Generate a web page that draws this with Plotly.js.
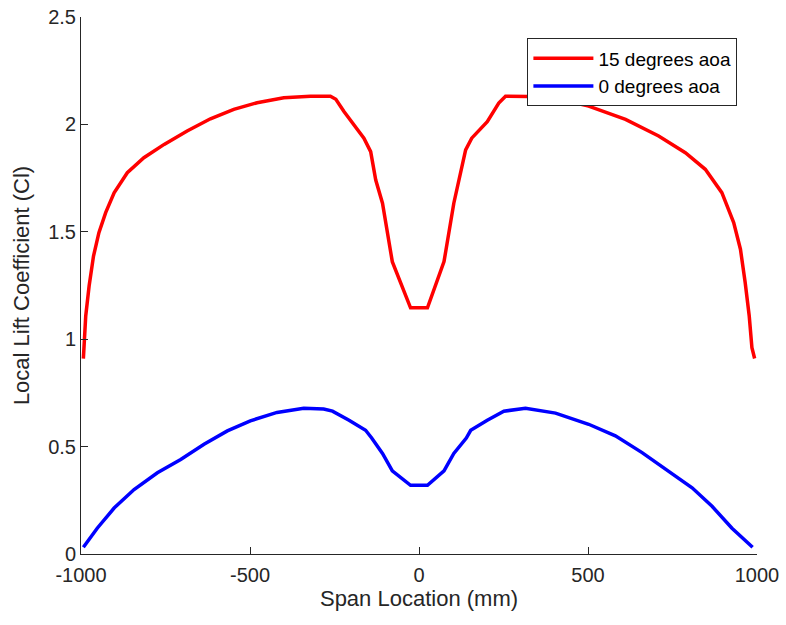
<!DOCTYPE html>
<html>
<head>
<meta charset="utf-8">
<script src="https://cdn.plot.ly/plotly-3.0.1.min.js"></script>
<style>html,body{margin:0;padding:0;background:#fff;}#chart{width:786px;height:625px;}</style>
</head>
<body>
<div id="chart"></div>
<script>
// Span locations (mm) and local lift coefficient
const spanAoa15 = [-993, -986, -976, -963, -947, -927, -902, -863, -814, -754, -686, -617, -548, -479, -400, -321, -262,
                   -246, -222, -192, -163, -143, -128, -108, -79, -25,
                   25, 74, 103, 138, 156, 202, 236, 256,
                   384, 502, 611, 709, 788, 847, 896, 931, 951, 965, 977, 985, 993];
const clAoa15 = [0.91, 1.108, 1.248, 1.387, 1.496, 1.589, 1.682, 1.775, 1.845, 1.907, 1.969, 2.026, 2.070, 2.101, 2.124, 2.131, 2.131,
                 2.117, 2.06, 1.998, 1.936, 1.873, 1.741, 1.633, 1.361, 1.146,
                 1.146, 1.361, 1.633, 1.881, 1.936, 2.013, 2.099, 2.131,
                 2.129, 2.085, 2.023, 1.946, 1.868, 1.791, 1.682, 1.543, 1.419, 1.264, 1.108, 0.96, 0.91];

const spanAoa0 = [-993, -952, -902, -843, -774, -705, -636, -567, -499, -420, -341, -282, -256,
                  -207, -158, -140, -108, -79, -25,
                  25, 74, 103, 140, 153, 202, 251,
                  315, 404, 502, 581, 660, 739, 808, 867, 926, 987];
const clAoa0 = [0.031, 0.120, 0.214, 0.300, 0.378, 0.440, 0.511, 0.573, 0.620, 0.659, 0.678, 0.675, 0.665,
                0.623, 0.576, 0.540, 0.468, 0.387, 0.320,
                0.320, 0.387, 0.468, 0.540, 0.576, 0.623, 0.665,
                0.678, 0.656, 0.604, 0.550, 0.472, 0.386, 0.308, 0.222, 0.120, 0.031];

const seriesNames = ['15 degrees aoa', '0 degrees aoa'];
const xTicks = [-1000, -500, 0, 500, 1000];
const xTickText = ['-1000', '-500', '0', '500', '1000'];
const yTicks = [0, 0.5, 1, 1.5, 2, 2.5];
const yTickText = ['0', '0.5', '1', '1.5', '2', '2.5'];

const axisColor = '#262626';
const font = 'Arial, "Liberation Sans", Helvetica, sans-serif';

const traces = [
  {x: spanAoa15, y: clAoa15, name: seriesNames[0], mode: 'lines', type: 'scatter',
   line: {color: '#ff0000', width: 3.5}},
  {x: spanAoa0, y: clAoa0, name: seriesNames[1], mode: 'lines', type: 'scatter',
   line: {color: '#0000ff', width: 3.5}}
];

const layout = {
  width: 786, height: 625,
  margin: {l: 81, r: 29, t: 17, b: 71},
  paper_bgcolor: '#fff', plot_bgcolor: '#fff',
  font: {family: font, size: 20, color: axisColor},
  showlegend: true,
  legend: {
    x: 0.971, y: 0.96, xanchor: 'right', yanchor: 'top',
    bordercolor: '#262626', borderwidth: 1, bgcolor: '#fff',
    font: {family: font, size: 19, color: '#000'},
    itemwidth: 60, tracegroupgap: 0
  },
  xaxis: {
    range: [-1000, 1000], tickvals: xTicks, ticktext: xTickText,
    showline: true, linecolor: axisColor, linewidth: 1, mirror: false,
    ticks: 'inside', ticklen: 7, tickcolor: axisColor, showgrid: false, zeroline: false,
    tickfont: {size: 20, color: axisColor}, ticklabelstandoff: 3,
    title: {text: 'Span Location (mm)', font: {size: 22, color: axisColor}, standoff: 4}
  },
  yaxis: {
    range: [0, 2.5], tickvals: yTicks, ticktext: yTickText,
    showline: true, linecolor: axisColor, linewidth: 1, mirror: false,
    ticks: 'inside', ticklen: 7, tickcolor: axisColor, showgrid: false, zeroline: false,
    tickfont: {size: 20, color: axisColor},
    title: {text: 'Local Lift Coefficient (Cl)', font: {size: 22, color: axisColor}, standoff: 12}
  }
};

Plotly.newPlot('chart', traces, layout, {staticPlot: true, displayModeBar: false});
</script>
</body>
</html>
